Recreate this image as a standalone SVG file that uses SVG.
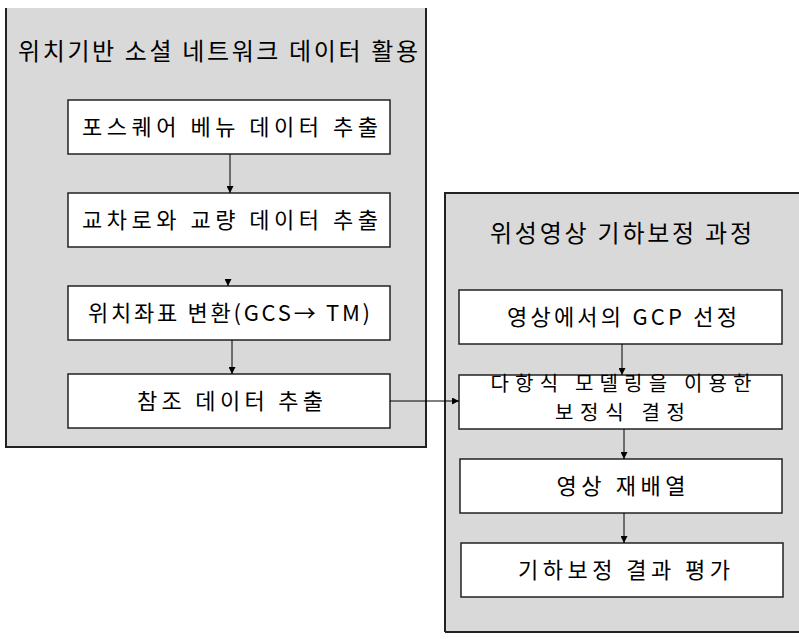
<svg xmlns="http://www.w3.org/2000/svg" width="799" height="639" viewBox="0 0 799 639">
<defs>
<style>
text{font-family:"Noto Sans CJK KR","Noto Sans",sans-serif;font-size:22px;fill:#000;text-anchor:middle}
.t{font-size:24px}
.s{font-size:20px}
.panel{fill:#d9d9d9;stroke:none}
.edge{stroke:#222;stroke-width:2;fill:none}
.box{fill:#fff;stroke:#222;stroke-width:1.5}
.c{stroke:#000;stroke-width:1;fill:none}
</style>
<marker id="a" viewBox="0 0 10 10" refX="10" refY="5" markerWidth="7" markerHeight="7" orient="auto"><path d="M0,0L10,5L0,10z" fill="#000"/></marker>
</defs>
<g id="panel-left">
<rect class="panel" x="6" y="8" width="420" height="439"/>
<path class="edge" d="M6,8V447H426V8"/>
<text class="t" x="218" y="60" textLength="400" lengthAdjust="spacing">위치기반 소셜 네트워크 데이터 활용</text>
</g>
<g id="panel-right">
<rect class="panel" x="445" y="193" width="354" height="439"/>
<path class="edge" d="M445,632V193H799M445,632H799"/>
<text class="t" x="621" y="242" textLength="262" lengthAdjust="spacing">위성영상 기하보정 과정</text>
</g>
<g id="n1"><rect class="box" x="68" y="100" width="322" height="54"/><text x="230" y="135" textLength="296" lengthAdjust="spacing">포스퀘어 베뉴 데이터 추출</text></g>
<g id="n2"><rect class="box" x="68" y="193" width="322" height="54"/><text x="230" y="228" textLength="296" lengthAdjust="spacing">교차로와 교량 데이터 추출</text></g>
<g id="n3"><rect class="box" x="68" y="286" width="322" height="54"/><text x="229" y="321" textLength="282" lengthAdjust="spacing">위치좌표 변환(GCS→ TM)</text></g>
<g id="n4"><rect class="box" x="68" y="374" width="322" height="54"/><text x="230" y="409" textLength="186" lengthAdjust="spacing">참조 데이터 추출</text></g>
<g id="r1"><rect class="box" x="459" y="290" width="323" height="54"/><text x="622" y="325" textLength="230" lengthAdjust="spacing">영상에서의 GCP 선정</text></g>
<g id="r2"><rect class="box" x="459" y="375" width="323" height="54"/><text class="s" x="621" y="391" textLength="261" lengthAdjust="spacing">다항식 모델링을 이용한</text><text class="s" x="620" y="420" textLength="130" lengthAdjust="spacing">보정식 결정</text></g>
<g id="r3"><rect class="box" x="460" y="459" width="322" height="54"/><text x="621" y="494" textLength="129" lengthAdjust="spacing">영상 재배열</text></g>
<g id="r4"><rect class="box" x="461" y="543" width="322" height="54"/><text x="624" y="578" textLength="212" lengthAdjust="spacing">기하보정 결과 평가</text></g>
<g id="connectors">
<path class="c" d="M230,154V193" marker-end="url(#a)"/>
<path class="c" d="M228,280V286" marker-end="url(#a)"/>
<path class="c" d="M232,340V374" marker-end="url(#a)"/>
<path class="c" d="M390,401H459" marker-end="url(#a)"/>
<path class="c" d="M622,344V375" marker-end="url(#a)"/>
<path class="c" d="M624,429V459" marker-end="url(#a)"/>
<path class="c" d="M624,513V543" marker-end="url(#a)"/>
</g>
</svg>
